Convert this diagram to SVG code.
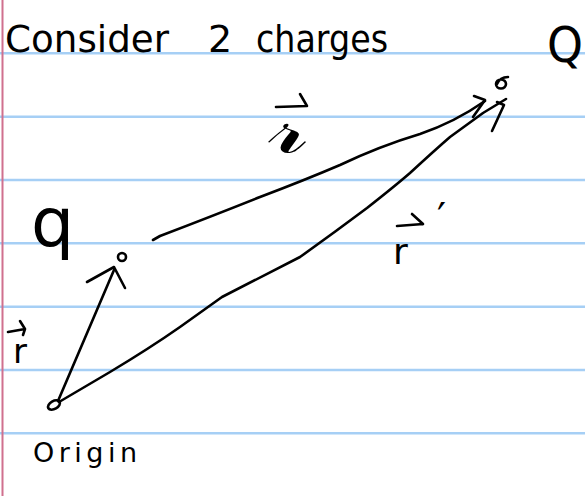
<svg xmlns="http://www.w3.org/2000/svg" width="585" height="496" viewBox="0 0 585 496">
<style>
.rule{stroke:#a6cff5;stroke-width:2.5}
.ink{fill:none;stroke:#000;stroke-width:2.6;stroke-linecap:round;stroke-linejoin:round}
.t{font-family:"DejaVu Sans","Liberation Sans",sans-serif;fill:#000}
</style>
<rect width="585" height="496" fill="#fff"/>
<g id="paper">
<line class="rule" x1="0" y1="53.3" x2="585" y2="53.3"/>
<line class="rule" x1="0" y1="116.7" x2="585" y2="116.7"/>
<line class="rule" x1="0" y1="180" x2="585" y2="180"/>
<line class="rule" x1="0" y1="243.3" x2="585" y2="243.3"/>
<line class="rule" x1="0" y1="306.7" x2="585" y2="306.7"/>
<line class="rule" x1="0" y1="370" x2="585" y2="370"/>
<line class="rule" x1="0" y1="433.3" x2="585" y2="433.3"/>
<line x1="2.5" y1="0" x2="2.5" y2="496" stroke="#d0708e" stroke-width="2"/>
</g>
<g id="title">
<text class="t" x="5" y="52" font-size="38" textLength="164" lengthAdjust="spacingAndGlyphs">Consider</text>
<text class="t" x="208" y="52" font-size="38">2</text>
<text class="t" x="256" y="52" font-size="38" textLength="132" lengthAdjust="spacingAndGlyphs">charges</text>
</g>
<g id="Q">
<text class="t" x="547" y="62" font-size="50" textLength="36" lengthAdjust="spacingAndGlyphs">Q</text>
<path class="ink" d="M501,84 m-5,0 a5,4.5 0 1,0 10,0 a5,4.5 0 1,0 -10,0 M497,84 Q500,77 508,77"/>
</g>
<g id="q">
<text class="t" x="31" y="246" font-size="68">q</text>
<circle class="ink" cx="122" cy="257" r="4"/>
</g>
<g id="origin">
<ellipse class="ink" cx="54" cy="405" rx="6.5" ry="4" transform="rotate(-30 54 405)"/>
<text class="t" x="33" y="462" font-size="27" textLength="104" lengthAdjust="spacing">Origin</text>
</g>
<g id="connectors">
<path class="ink" d="M58,401 L114,270"/>
<path class="ink" d="M87,282 L114,267 L125,288"/>
<path class="ink" d="M153,240 L160,236 Q215,215 260,197 Q305,180 340,165 Q380,146 420,134 Q455,122 485,101"/>
<path class="ink" d="M474,96 L485,100 L473,117"/>
<path class="ink" d="M59,402 L110,372 Q150,348 180,327 L222,297 Q265,275 300,257 Q335,232 367,208 Q395,186 410,173 Q435,150 450,137 L483,113 L506,99"/>
<path class="ink" d="M497,102 L504,105 L492,131"/>
</g>
<g id="label-r">
<path class="ink" d="M8,332 L25,329 M20,321 L25,329 L23,335"/>
<text class="t" x="13" y="363" font-size="34">r</text>
</g>
<g id="label-script-r">
<path class="ink" d="M276,107 L307,106 M300,94 L307,106"/>
<text class="t" x="268" y="153" font-size="70" textLength="40" lengthAdjust="spacingAndGlyphs">𝓇</text>
</g>
<g id="label-r-prime">
<path class="ink" d="M397,226 L423,224 M412,214 L423,224"/>
<text class="t" x="393" y="264" font-size="36">r</text>
<text class="t" x="437" y="232" font-size="40">′</text>
</g>
</svg>
